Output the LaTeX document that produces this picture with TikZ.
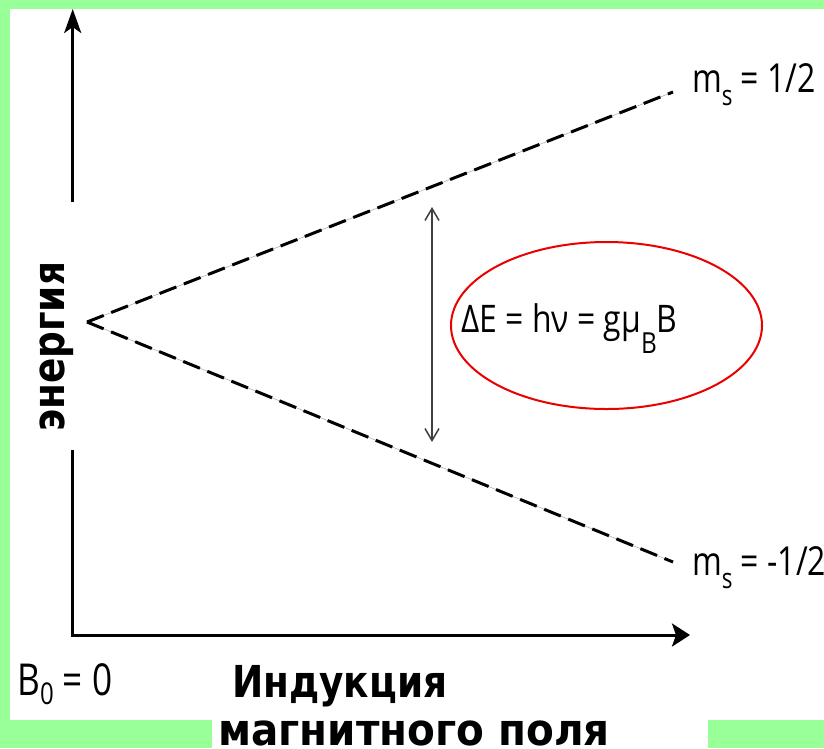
\documentclass[tikz,border=0pt]{standalone}
\usepackage{fontspec}
\setmainfont{Open Sans}
\newfontfamily\condfont[FakeStretch=0.8]{Open Sans}
\newfontfamily\formfont[FakeStretch=0.84]{Open Sans}
\newfontfamily\boldfont[FakeStretch=0.85]{DejaVu Sans}
\newfontfamily\widebold[FakeStretch=0.92]{DejaVu Sans}
\usetikzlibrary{arrows.meta,shapes.geometric}
\definecolor{bordergreen}{RGB}{153,255,153}
\definecolor{ellred}{RGB}{235,0,0}
\tikzset{
  axisline/.style={line width=3pt,black},
  level/.style={line width=3pt,black,dash pattern=on 18pt off 8pt},
  levelthin/.style={line width=0.6pt,gray!60},
  gap/.style={line width=1.5pt,gray!50!black,{Straight Barb[length=12pt,width=14pt]}-{Straight Barb[length=12pt,width=14pt]}},
  lbl/.style={inner sep=0pt,anchor=base west},
}
\newcommand{\cf}[1]{\condfont\fontsize{#1}{#1}\selectfont}
\newcommand{\ff}[1]{\formfont\fontsize{#1}{#1}\selectfont}
\newcommand{\bfnt}[1]{\boldfont\bfseries\fontsize{#1}{#1}\selectfont}
\newcommand{\wbfnt}[1]{\widebold\bfseries\fontsize{#1}{#1}\selectfont}
\begin{document}
\begin{tikzpicture}[x=1pt,y=-1pt]
\fill[bordergreen] (0,0) rectangle (824,748);
\fill[white] (10,9) rectangle (824,720);
\fill[white] (212,719) rectangle (708,748);
\useasboundingbox (0,0) rectangle (824,748);
% axes
\coordinate (ytip) at (72.7,9);
\coordinate (ytop) at (72.7,202);
\coordinate (ybot) at (72.7,450);
\coordinate (origin) at (72.7,635);
\coordinate (xtip) at (690,635);
\draw[axisline,-{Stealth[length=24pt,width=17pt,inset=6pt]}] (ytop) -- (ytip);
\draw[axisline,-{Stealth[length=18pt,width=23pt,inset=4pt]}] (ybot) -- (origin) -- (xtip);
% levels
\coordinate (split) at (87,322);
\coordinate (upend) at (673,92);
\coordinate (lowend) at (673,562);
\draw[levelthin] (split) -- (upend);
\draw[levelthin] (split) -- (lowend);
\draw[level] (split) -- (upend);
\draw[level] (split) -- (lowend);
% gap arrow
\coordinate (dtop) at (432,207);
\coordinate (dbot) at (432,442);
\draw[gap] (dtop) -- (dbot);
% ellipse and formula
\node[draw=ellred,line width=2pt,ellipse,minimum width=311pt,minimum height=167pt,inner sep=0pt] (ell) at (606.5,325.5) {};
\node[lbl] (formula) at (461,332) {\ff{38}ΔE = hν = gμ\raisebox{-21pt}{\ff{29}B}B};
% labels
\node[lbl] (ms1) at (692,92) {\cf{40}m\raisebox{-13pt}{\cf{28}s} = 1/2};
\node[lbl] (ms2) at (692,575) {\cf{40}m\raisebox{-13pt}{\cf{28}s} = -1/2};
\node[lbl] (b0) at (17,695) {\cf{44}B\raisebox{-9pt}{\cf{30}0} = 0};
\node[lbl] (ind) at (232,697) {\bfnt{44}Индукция};
\node[lbl] (mag) at (218,745) {\wbfnt{44}магнитного поля};
\node[lbl,rotate=90] (en) at (64,432) {\bfnt{44}энергия};
\end{tikzpicture}
\end{document}
